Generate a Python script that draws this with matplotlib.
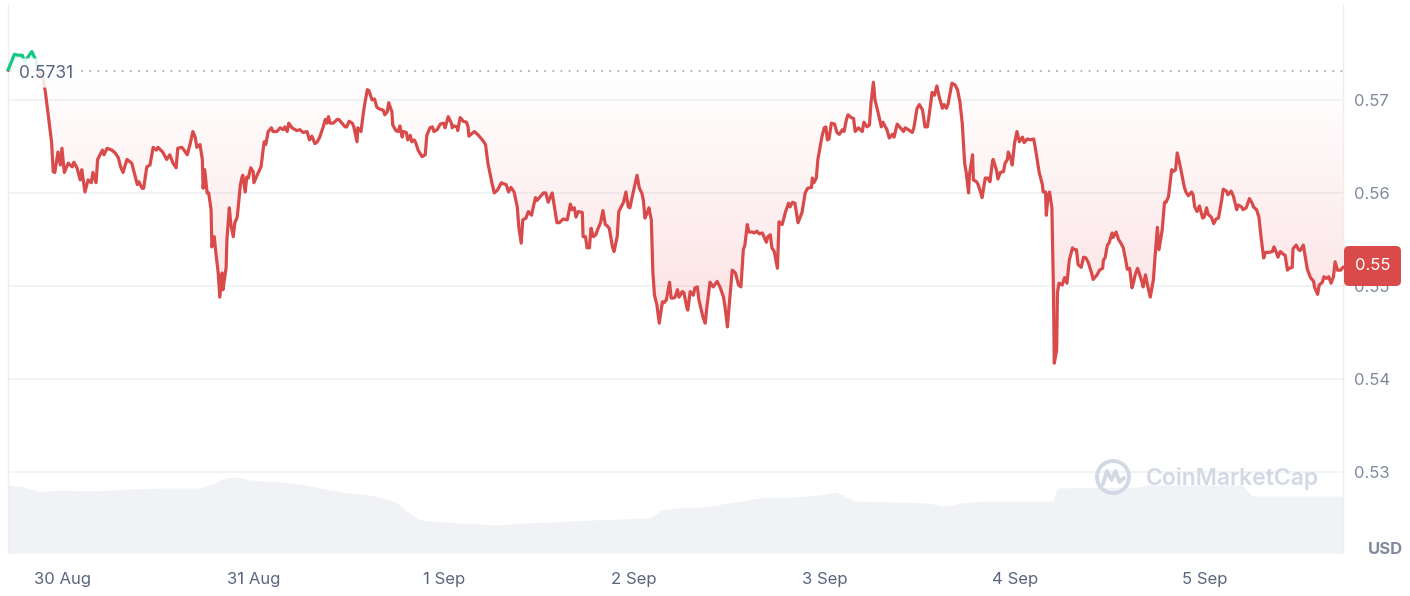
import numpy as np
import matplotlib
matplotlib.use("Agg")
import matplotlib.pyplot as plt
import matplotlib.dates as mdates
from matplotlib.patches import Rectangle, FancyBboxPatch, Circle
from matplotlib.lines import Line2D
from matplotlib.path import Path
from matplotlib.transforms import IdentityTransform
from matplotlib.colors import to_rgb
from datetime import datetime, timedelta

plt.rcParams['font.family'] = ['Inter', 'DejaVu Sans']

# ---------------- data ----------------
START = datetime(2024, 8, 29, 17, 4)
WINDOW_HOURS = 168.3

HOURS = [
    0.0, 0.8, 1.3, 1.8, 2.1, 3.0, 3.5, 3.9, 4.4, 4.7,
    5.0, 5.5, 5.7, 5.9, 6.3, 6.6, 6.8, 7.1, 7.6, 8.1,
    8.3, 8.7, 9.1, 9.3, 9.7, 10.1, 10.5, 10.7, 11.1, 11.3,
    11.9, 12.1, 12.5, 13.1, 13.5, 13.9, 14.2, 14.5, 15.0, 15.6,
    15.9, 16.3, 16.5, 16.9, 17.1, 17.5, 17.9, 18.3, 18.7, 18.9,
    19.5, 20.0, 20.4, 20.8, 21.2, 21.4, 21.9, 22.2, 22.6, 23.0,
    23.3, 23.6, 23.8, 24.2, 24.5, 24.6, 24.8, 25.1, 25.3, 25.6,
    25.7, 26.0, 26.2, 26.5, 26.7, 27.0, 27.1, 27.5, 27.6, 27.9,
    28.1, 28.4, 28.6, 28.9, 29.3, 29.5, 29.6, 29.9, 30.1, 30.3,
    30.6, 30.9, 31.0, 31.4, 31.9, 32.2, 32.3, 32.5, 32.8, 33.2,
    33.4, 33.9, 34.3, 34.7, 34.9, 35.2, 35.4, 35.8, 36.4, 36.8,
    37.2, 37.7, 38.0, 38.3, 38.7, 39.0, 39.3, 39.7, 40.0, 40.2,
    40.4, 40.6, 41.0, 41.5, 41.7, 42.1, 42.5, 42.7, 43.0, 43.4,
    43.6, 44.0, 44.1, 44.5, 44.8, 45.0, 45.3, 45.5, 45.9, 46.2,
    46.5, 46.9, 47.3, 47.5, 47.8, 48.0, 48.4, 48.5, 48.9, 49.2,
    49.4, 49.7, 49.8, 50.2, 50.4, 50.7, 50.9, 51.2, 51.4, 51.7,
    52.2, 52.6, 52.8, 53.2, 53.5, 53.7, 54.1, 54.5, 54.9, 55.1,
    55.5, 55.9, 56.0, 56.2, 56.6, 56.7, 57.0, 57.4, 57.8, 58.0,
    58.1, 58.8, 59.3, 59.8, 60.2, 60.5, 61.0, 61.3, 61.7, 62.2,
    62.4, 62.8, 63.1, 63.4, 63.8, 64.2, 64.4, 64.7, 64.9, 65.3,
    65.6, 66.0, 66.2, 66.5, 66.7, 67.1, 67.5, 67.8, 68.1, 68.6,
    68.7, 69.2, 69.5, 70.0, 70.5, 70.9, 71.1, 71.4, 71.6, 71.9,
    72.4, 72.5, 72.8, 73.0, 73.3, 73.5, 73.8, 74.1, 74.4, 74.7,
    75.0, 75.3, 75.5, 75.8, 76.2, 76.4, 76.8, 77.0, 77.6, 77.9,
    78.2, 78.4, 78.8, 79.3, 79.6, 79.9, 80.1, 80.3, 80.6, 80.8,
    81.1, 81.3, 81.5, 81.8, 82.1, 82.5, 82.7, 83.0, 83.4, 83.6,
    83.9, 84.1, 84.4, 84.6, 85.0, 85.2, 85.6, 85.7, 86.0, 86.4,
    86.6, 86.9, 87.1, 87.6, 87.9, 88.1, 88.5, 88.9, 89.4, 89.8,
    90.2, 90.4, 90.7, 90.8, 91.3, 91.7, 92.1, 92.4, 92.7, 92.9,
    93.2, 93.4, 93.8, 94.1, 94.4, 94.7, 95.1, 95.3, 95.6, 95.8,
    96.1, 96.3, 96.6, 97.0, 97.2, 97.6, 98.0, 98.4, 98.6, 98.9,
    99.2, 99.6, 100.1, 100.5, 100.8, 101.3, 101.4, 101.6, 101.9, 102.1,
    102.6, 102.9, 103.1, 103.3, 103.5, 103.8, 104.2, 104.5, 104.8, 105.2,
    105.4, 105.7, 105.9, 106.3, 106.6, 106.8, 107.2, 107.7, 107.9, 108.3,
    108.6, 108.8, 109.1, 109.3, 109.7, 110.1, 110.3, 110.8, 111.1, 111.5,
    111.7, 112.1, 112.5, 112.9, 113.1, 113.5, 114.0, 114.2, 114.6, 114.9,
    115.3, 115.6, 115.9, 116.1, 116.5, 116.8, 117.1, 117.4, 117.8, 118.0,
    118.3, 118.5, 119.0, 119.4, 119.7, 120.0, 120.3, 120.6, 120.8, 121.1,
    121.2, 121.6, 121.7, 122.1, 122.3, 122.6, 122.8, 123.2, 123.5, 123.8,
    124.1, 124.2, 124.6, 124.8, 125.1, 125.5, 125.7, 126.0, 126.1, 126.4,
    126.6, 126.9, 127.2, 127.5, 127.9, 128.1, 128.5, 128.9, 129.3, 129.5,
    129.8, 130.0, 130.4, 130.5, 130.8, 130.9, 131.1, 131.3, 131.6, 131.8,
    131.9, 132.2, 132.3, 132.5, 132.9, 133.2, 133.5, 133.8, 134.2, 134.4,
    134.7, 134.9, 135.3, 135.6, 135.9, 136.2, 136.6, 136.8, 137.3, 137.6,
    138.0, 138.1, 138.3, 138.6, 138.8, 139.2, 139.3, 139.7, 140.0, 140.3,
    140.6, 140.9, 141.1, 141.4, 141.7, 141.9, 142.1, 142.4, 142.6, 143.0,
    143.1, 143.4, 143.6, 144.0, 144.4, 144.6, 144.9, 145.1, 145.5, 145.8,
    146.0, 146.3, 146.7, 146.9, 147.2, 147.4, 147.7, 148.0, 148.3, 148.5,
    148.8, 149.2, 149.4, 149.6, 149.9, 150.2, 150.6, 150.8, 151.1, 151.3,
    151.7, 152.0, 152.3, 152.6, 153.0, 153.2, 153.6, 153.8, 154.2, 154.5,
    154.9, 155.1, 155.5, 155.7, 156.1, 156.5, 156.9, 157.0, 157.4, 157.7,
    158.0, 158.3, 158.5, 158.9, 159.4, 159.6, 159.9, 160.1, 160.4, 160.8,
    161.0, 161.3, 161.5, 161.9, 162.0, 162.4, 162.7, 162.9, 163.3, 163.6,
    163.8, 164.2, 164.6, 164.7, 164.9, 165.1, 165.3, 165.7, 165.9, 166.2,
    166.5, 166.8, 167.1, 167.3, 167.6, 168.0, 168.3,
]

PRICE = [
    0.5732, 0.5749, 0.5748, 0.5748, 0.5741, 0.5752, 0.5743, 0.5730, 0.5724, 0.5709,
    0.5689, 0.5654, 0.5623, 0.5622, 0.5644, 0.5630, 0.5648, 0.5622, 0.5632, 0.5628,
    0.5633, 0.5627, 0.5614, 0.5625, 0.5601, 0.5614, 0.5611, 0.5622, 0.5611, 0.5636,
    0.5646, 0.5641, 0.5648, 0.5646, 0.5643, 0.5638, 0.5628, 0.5622, 0.5636, 0.5632,
    0.5622, 0.5609, 0.5612, 0.5605, 0.5605, 0.5628, 0.5630, 0.5649, 0.5646, 0.5649,
    0.5644, 0.5636, 0.5641, 0.5632, 0.5627, 0.5648, 0.5649, 0.5646, 0.5641, 0.5654,
    0.5666, 0.5660, 0.5649, 0.5652, 0.5636, 0.5605, 0.5625, 0.5600, 0.5600, 0.5582,
    0.5542, 0.5553, 0.5536, 0.5514, 0.5488, 0.5514, 0.5496, 0.5520, 0.5550, 0.5584,
    0.5566, 0.5553, 0.5568, 0.5574, 0.5609, 0.5617, 0.5619, 0.5601, 0.5617, 0.5616,
    0.5627, 0.5623, 0.5611, 0.5619, 0.5628, 0.5649, 0.5655, 0.5652, 0.5666, 0.5670,
    0.5666, 0.5666, 0.5670, 0.5668, 0.5671, 0.5666, 0.5675, 0.5670, 0.5667, 0.5668,
    0.5665, 0.5666, 0.5657, 0.5661, 0.5653, 0.5655, 0.5660, 0.5670, 0.5679, 0.5675,
    0.5682, 0.5675, 0.5675, 0.5679, 0.5679, 0.5675, 0.5671, 0.5671, 0.5677, 0.5675,
    0.5671, 0.5655, 0.5670, 0.5666, 0.5686, 0.5697, 0.5711, 0.5710, 0.5700, 0.5701,
    0.5692, 0.5690, 0.5689, 0.5684, 0.5687, 0.5697, 0.5687, 0.5673, 0.5667, 0.5666,
    0.5672, 0.5660, 0.5666, 0.5665, 0.5657, 0.5662, 0.5655, 0.5657, 0.5654, 0.5646,
    0.5639, 0.5641, 0.5662, 0.5670, 0.5671, 0.5666, 0.5668, 0.5674, 0.5675, 0.5670,
    0.5682, 0.5675, 0.5670, 0.5672, 0.5671, 0.5667, 0.5681, 0.5677, 0.5676, 0.5671,
    0.5661, 0.5666, 0.5662, 0.5657, 0.5652, 0.5632, 0.5611, 0.5600, 0.5603, 0.5611,
    0.5610, 0.5609, 0.5601, 0.5606, 0.5601, 0.5585, 0.5563, 0.5546, 0.5571, 0.5573,
    0.5580, 0.5576, 0.5584, 0.5595, 0.5592, 0.5596, 0.5600, 0.5600, 0.5590, 0.5600,
    0.5595, 0.5568, 0.5568, 0.5572, 0.5571, 0.5588, 0.5582, 0.5584, 0.5574, 0.5580,
    0.5579, 0.5553, 0.5553, 0.5541, 0.5541, 0.5562, 0.5553, 0.5555, 0.5562, 0.5568,
    0.5581, 0.5566, 0.5565, 0.5562, 0.5542, 0.5537, 0.5553, 0.5580, 0.5590, 0.5601,
    0.5585, 0.5584, 0.5600, 0.5619, 0.5605, 0.5600, 0.5592, 0.5573, 0.5579, 0.5584,
    0.5571, 0.5514, 0.5490, 0.5480, 0.5460, 0.5483, 0.5482, 0.5485, 0.5504, 0.5487,
    0.5487, 0.5488, 0.5496, 0.5488, 0.5494, 0.5493, 0.5476, 0.5474, 0.5494, 0.5490,
    0.5498, 0.5499, 0.5485, 0.5467, 0.5460, 0.5477, 0.5504, 0.5499, 0.5505, 0.5498,
    0.5488, 0.5477, 0.5456, 0.5467, 0.5517, 0.5514, 0.5501, 0.5499, 0.5539, 0.5544,
    0.5566, 0.5558, 0.5558, 0.5557, 0.5559, 0.5556, 0.5557, 0.5553, 0.5547, 0.5553,
    0.5555, 0.5541, 0.5537, 0.5519, 0.5569, 0.5566, 0.5579, 0.5589, 0.5585, 0.5590,
    0.5589, 0.5568, 0.5579, 0.5600, 0.5605, 0.5606, 0.5616, 0.5611, 0.5616, 0.5636,
    0.5660, 0.5670, 0.5671, 0.5657, 0.5658, 0.5675, 0.5674, 0.5665, 0.5663, 0.5668,
    0.5666, 0.5679, 0.5684, 0.5681, 0.5680, 0.5666, 0.5670, 0.5666, 0.5676, 0.5671,
    0.5673, 0.5697, 0.5719, 0.5700, 0.5686, 0.5671, 0.5676, 0.5668, 0.5659, 0.5663,
    0.5660, 0.5674, 0.5670, 0.5666, 0.5670, 0.5668, 0.5665, 0.5670, 0.5691, 0.5695,
    0.5689, 0.5671, 0.5671, 0.5682, 0.5708, 0.5705, 0.5715, 0.5703, 0.5691, 0.5695,
    0.5691, 0.5695, 0.5718, 0.5716, 0.5711, 0.5698, 0.5675, 0.5632, 0.5622, 0.5600,
    0.5619, 0.5641, 0.5614, 0.5612, 0.5609, 0.5601, 0.5595, 0.5616, 0.5616, 0.5612,
    0.5633, 0.5636, 0.5625, 0.5615, 0.5622, 0.5623, 0.5632, 0.5636, 0.5644, 0.5638,
    0.5630, 0.5654, 0.5666, 0.5655, 0.5660, 0.5654, 0.5658, 0.5657, 0.5658, 0.5649,
    0.5633, 0.5622, 0.5609, 0.5601, 0.5601, 0.5576, 0.5596, 0.5601, 0.5584, 0.5493,
    0.5417, 0.5431, 0.5493, 0.5503, 0.5501, 0.5509, 0.5503, 0.5528, 0.5541, 0.5539,
    0.5539, 0.5523, 0.5520, 0.5531, 0.5530, 0.5525, 0.5514, 0.5507, 0.5512, 0.5517,
    0.5519, 0.5528, 0.5530, 0.5544, 0.5546, 0.5557, 0.5552, 0.5558, 0.5550, 0.5546,
    0.5541, 0.5528, 0.5518, 0.5519, 0.5498, 0.5504, 0.5512, 0.5519, 0.5514, 0.5503,
    0.5499, 0.5512, 0.5503, 0.5488, 0.5507, 0.5531, 0.5563, 0.5539, 0.5560, 0.5590,
    0.5590, 0.5596, 0.5625, 0.5623, 0.5625, 0.5643, 0.5632, 0.5619, 0.5606, 0.5601,
    0.5597, 0.5601, 0.5598, 0.5585, 0.5580, 0.5586, 0.5573, 0.5574, 0.5584, 0.5577,
    0.5574, 0.5567, 0.5572, 0.5573, 0.5592, 0.5604, 0.5602, 0.5598, 0.5602, 0.5596,
    0.5582, 0.5587, 0.5585, 0.5582, 0.5584, 0.5594, 0.5588, 0.5585, 0.5582, 0.5574,
    0.5550, 0.5530, 0.5536, 0.5536, 0.5537, 0.5542, 0.5536, 0.5531, 0.5537, 0.5534,
    0.5533, 0.5517, 0.5519, 0.5520, 0.5540, 0.5544, 0.5539, 0.5538, 0.5544, 0.5528,
    0.5518, 0.5509, 0.5505, 0.5499, 0.5495, 0.5491, 0.5501, 0.5504, 0.5510, 0.5508,
    0.5510, 0.5503, 0.5510, 0.5526, 0.5517, 0.5517, 0.5520,
]

VOL_HOURS = [0.0, 2.1, 3.2, 4.0, 6.6, 10.3, 15.4, 19.2, 24.2, 26.1,
             27.4, 28.6, 30.5, 34.3, 36.8, 39.3, 41.9, 45.6, 48.2, 49.4,
             50.9, 52.0, 53.5, 56.9, 61.9, 65.3, 68.3, 73.4, 77.3, 80.8,
             82.3, 84.4, 87.3, 89.3, 90.8, 93.3, 95.3, 99.2, 102.3, 104.3,
             105.8, 106.8, 111.7, 115.8, 118.2, 120.2, 122.7, 131.8, 132.2, 142.7,
             143.4, 155.7, 156.4, 156.9, 168.3]
VOLUME_M = [680, 660, 630, 610, 630, 620, 640, 650, 650, 700,
            750, 760, 730, 710, 690, 650, 610, 580, 530, 480,
            380, 330, 320, 300, 280, 300, 310, 330, 340, 350,
            430, 450, 460, 480, 500, 530, 560, 560, 580, 610,
            560, 520, 510, 500, 470, 500, 520, 520, 650, 660,
            680, 680, 600, 570, 570]

OPEN_PRICE = 0.5731
OPEN_LABEL = "0.5731"
LAST_LABEL = "0.55"
Y_TICKS = [0.53, 0.54, 0.55, 0.56, 0.57]
Y_RANGE = (0.5213, 0.5802)
X_TICK_DATES = [datetime(2024, 8, 30) + timedelta(days=i) for i in range(7)]
X_TICK_LABELS = ["30 Aug", "31 Aug", "1 Sep", "2 Sep", "3 Sep", "4 Sep", "5 Sep"]

n = min(len(HOURS), len(PRICE))
HOURS, PRICE = HOURS[:n], PRICE[:n]

# ---------------- style ----------------
RED = '#d94a4a'
GREEN = '#16c784'
GRID = '#eff2f5'
TICK_GREY = '#808a9d'
LABEL_GREY = '#58667e'
WATER = '#d3d9e4'

W, H = 1410, 596
fig = plt.figure(figsize=(W / 100, H / 100), dpi=100)
fig.patch.set_facecolor('white')
L, R, T, B = 8, 1343, 5, 553
pos = [L / W, 1 - B / H, (R - L) / W, (B - T) / H]

axv = fig.add_axes(pos, zorder=0)
ax = fig.add_axes(pos, zorder=1)
ax.patch.set_alpha(0)

t = mdates.date2num([START + timedelta(hours=h) for h in HOURS])
tv = mdates.date2num([START + timedelta(hours=h) for h in VOL_HOURS])
t0 = mdates.date2num(START)
t1 = mdates.date2num(START + timedelta(hours=WINDOW_HOURS))
p = np.array(PRICE)

# volume
axv.fill_between(tv, VOLUME_M, 0, color='#f1f2f6', lw=0)
axv.set_xlim(t0, t1)
axv.set_ylim(0, 5480)
axv.axis('off')

# grid
for yv in Y_TICKS:
    ax.axhline(yv, color=GRID, lw=1.2, zorder=0)
ax.axhline(OPEN_PRICE, color='#a4adbf', lw=1.3, ls=(0, (1, 3.5)), zorder=2)

# gradient fill under baseline
below = ax.fill_between(t, p, OPEN_PRICE, where=p <= OPEN_PRICE, interpolate=True,
                        facecolor='none', edgecolor='none')
clip = Path.make_compound_path(*below.get_paths())
grad = np.zeros((256, 2, 4))
grad[..., :3] = to_rgb('#ea3943')
grad[..., 3] = np.linspace(0.0, 0.28, 256)[:, None]
im = ax.imshow(grad, extent=[t0, t1, Y_RANGE[0], OPEN_PRICE], origin='upper',
               aspect='auto', interpolation='bilinear', zorder=1)
im.set_clip_path(clip, ax.transData)

ax.fill_between(t, p, OPEN_PRICE, where=p >= OPEN_PRICE, interpolate=True,
                color=GREEN, alpha=0.12, lw=0, zorder=1)

# price line, red below the open, green above
lr, = ax.plot(t, p, color=RED, lw=2.3, zorder=3, solid_joinstyle='round')
lr.set_clip_path(Rectangle((t0 - 1, Y_RANGE[0] - 1), t1 - t0 + 2,
                           OPEN_PRICE - Y_RANGE[0] + 1, transform=ax.transData))
lg, = ax.plot(t, p, color=GREEN, lw=2.3, zorder=3, solid_joinstyle='round')
lg.set_clip_path(Rectangle((t0 - 1, OPEN_PRICE), t1 - t0 + 2, 1, transform=ax.transData))

ax.set_xlim(t0, t1)
ax.set_ylim(*Y_RANGE)

for s in ['top', 'bottom']:
    ax.spines[s].set_visible(False)
for s in ['left', 'right']:
    ax.spines[s].set_color('#eceef2')
    ax.spines[s].set_linewidth(1.0)

ax.yaxis.tick_right()
ax.set_yticks(Y_TICKS)
ax.set_yticklabels([f"{v:.2f}" for v in Y_TICKS])
ax.tick_params(axis='y', length=0, pad=8, labelsize=12, labelcolor=TICK_GREY)
ax.set_xticks(mdates.date2num(X_TICK_DATES))
ax.set_xticklabels(X_TICK_LABELS)
ax.tick_params(axis='x', length=0, pad=13.5, labelsize=12, labelcolor=LABEL_GREY)

# open label
fig.text(46, H - 73, OPEN_LABEL, transform=IdentityTransform(), ha='center', va='center',
         fontsize=12.5, color=LABEL_GREY, zorder=5,
         bbox=dict(boxstyle='round,pad=0.35,rounding_size=0.4', fc='white', ec='none', alpha=0.85))

# last price tag
tag = FancyBboxPatch((1344, H - 286), 57, 40, boxstyle='round,pad=0,rounding_size=5',
                     transform=IdentityTransform(), fc=RED, ec='none', zorder=5)
fig.add_artist(tag)
fig.text(1372.5, H - 266, LAST_LABEL, transform=IdentityTransform(), ha='center', va='center',
         fontsize=12, color='white', zorder=6)

# currency
fig.text(1385, H - 549, "USD", transform=IdentityTransform(), ha='center', va='center',
         fontsize=12, fontweight='bold', color=TICK_GREY, zorder=5)

# watermark
fig.text(1232, H - 478, "CoinMarketCap", transform=IdentityTransform(), ha='center',
         va='center', fontsize=16.5, fontweight='semibold', color=WATER, zorder=4)
cx, cy = 1113, H - 477
fig.add_artist(Circle((cx, cy), 16, transform=IdentityTransform(), fill=False,
                      ec=WATER, lw=2.8, zorder=4))
mx = [cx - 10, cx - 6, cx - 1.5, cx + 2.5, cx + 6.5, cx + 11]
my = [cy - 7, cy + 6, cy - 3, cy + 6, cy - 5, cy - 1]
fig.add_artist(Line2D(mx, my, transform=IdentityTransform(), color=WATER, lw=2.8,
                      solid_joinstyle='round', solid_capstyle='round', zorder=4))

fig.savefig("out.png", dpi=100, facecolor='white')
